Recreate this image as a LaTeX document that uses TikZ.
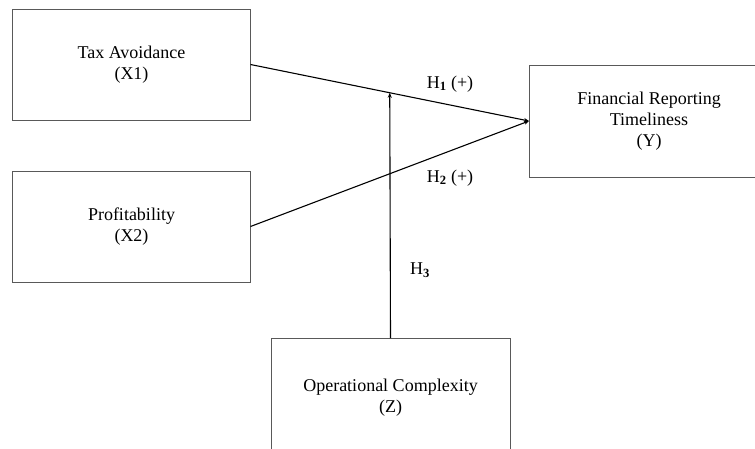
\documentclass[tikz,border=0pt]{standalone}
\usepackage{fontspec}
\setmainfont{Liberation Serif}
\usetikzlibrary{arrows.meta,calc}
\begin{document}
\begin{tikzpicture}[x=1pt,y=-1pt,
  varbox/.style={draw=black!65,line width=0.9pt,rectangle,inner sep=0pt,outer sep=0pt,
    align=center,font=\fontsize{18}{21}\selectfont},
  link/.style={line width=1.1pt,black,-{Stealth[length=5pt,width=4pt]}},
  hlabel/.style={font=\fontsize{18}{21}\selectfont,inner sep=0pt}]
\path[use as bounding box] (0,0) rectangle (755,448);
\clip (0,0) rectangle (755,448);
\node[varbox,minimum width=238pt,minimum height=111pt] (x1) at (131.5,64.5) {Tax Avoidance\\(X1)};
\node[varbox,minimum width=238pt,minimum height=111pt] (x2) at (131.5,226.5) {Profitability\\(X2)};
\node[varbox,minimum width=240pt,minimum height=112pt] (y) at (649,121) {Financial Reporting\\Timeliness\\(Y)};
\node[varbox,minimum width=239pt,minimum height=120pt] (z) at (390.5,398) {Operational Complexity\\(Z)};
\draw[link] (x1.east) -- (y.west);
\draw[link] (x2.east) -- (y.west);
\coordinate (m) at ($(x1.east)!0.5!(y.west)$);
\draw[link] (z.north) -- (m);
\node[hlabel] (h1) at (450,84) {H\textsubscript{\textbf{1}} (+)};
\node[hlabel] (h2) at (450,178) {H\textsubscript{\textbf{2}} (+)};
\node[hlabel] (h3) at (420,270) {H\textsubscript{\textbf{3}}};
\end{tikzpicture}
\end{document}
